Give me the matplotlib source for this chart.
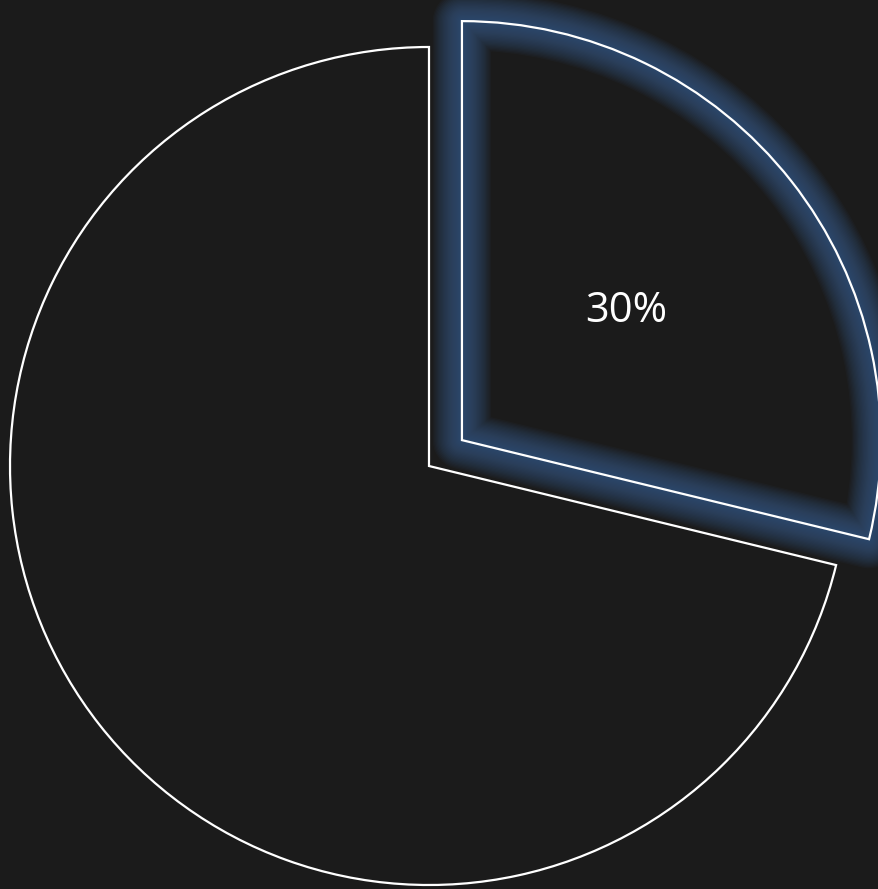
"""
Pie chart with one exploded, glowing slice on a dark background.
"""

import matplotlib

matplotlib.use("Agg")
import matplotlib.pyplot as plt
from matplotlib.patches import PathPatch
import numpy as np

BG = "#1b1b1b"
GLOW = "#3b5f8c"

# slice shares (first slice is the highlighted one)
shares = [28.8, 71.2]
labels = ["30%", ""]
explode = [0.1, 0.0]

W, H = 879, 889
CX, CY, R = 429, 466, 419

fig = plt.figure(figsize=(W / 100, H / 100), dpi=100, facecolor=BG)
ax = fig.add_axes([0, 0, 1, 1])
ax.set_facecolor(BG)

# pie() takes explode in data units, so scale by the radius
wedges, _ = ax.pie(
    shares,
    explode=[e * R for e in explode],
    radius=R,
    startangle=90,
    counterclock=False,
    wedgeprops=dict(facecolor="none", edgecolor="white", linewidth=1.6,
                    joinstyle="miter", zorder=3),
)

# pie() resets the limits, so set them afterwards (1 unit = 1 pixel)
ax.set_xlim(-CX, W - CX)
ax.set_ylim(-(H - CY), CY)
ax.set_aspect("equal")
ax.axis("off")

# soft blue glow around the exploded slice
hl = wedges[0]
n = 22
for i in range(n):
    lw = 40 * (1 - i / n) + 2
    ax.add_patch(PathPatch(hl.get_path(), transform=ax.transData,
                           facecolor="none", edgecolor=GLOW, linewidth=lw,
                           alpha=0.06, joinstyle="round", zorder=1))

# percentage label, placed along the slice bisector
for w, lab in zip(wedges, labels):
    if not lab:
        continue
    mid = np.deg2rad((w.theta1 + w.theta2) / 2)
    x = w.center[0] + 0.5 * R * np.cos(mid)
    y = w.center[1] + 0.5 * R * np.sin(mid)
    ax.text(x, y, lab, color="white", fontsize=30, family="Open Sans",
            ha="center", va="center", zorder=4)

fig.savefig("out.png", dpi=100, facecolor=BG)
